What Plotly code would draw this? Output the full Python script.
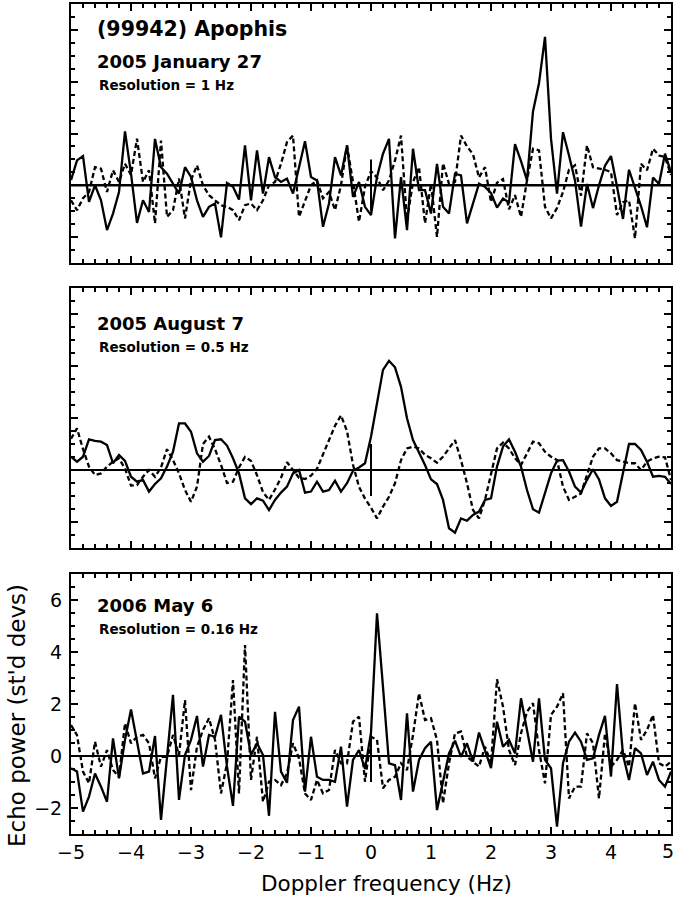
import plotly.graph_objects as go

# Doppler frequency grid (Hz), 0.1 Hz spacing
freq = [round(-5 + 0.1 * i, 1) for i in range(101)]

# 2005 January 27 (1 Hz resolution)
jan_solid = [0.2, 0.96, 1.13, -0.64, 0.0, -0.58, -1.73, -1.09, -0.26, 2.08,
             0.45, -1.45, -0.58, -1.03, 1.79, 0.7, 0.45, 0.06, -0.32, 0.7,
             0.32, -0.58, -1.22, -0.83, -0.7, -2.01, 0.09, -0.06, -0.55, 1.54,
             -0.58, 1.35, -0.32, 1.09, 0.32, 0.13, 0.26, -0.32, 0.7, 1.7,
             0.32, 0.19, -1.6, -0.7, 1.09, 0.38, 1.54, -0.45, 0.13, -0.83,
             -1.15, 0.32, 1.22, 1.79, -2.05, 0.32, -1.73, 1.41, -0.19, -0.19,
             -1.09, 0.83, -0.83, -1.09, 0.45, 0.38, -1.47, -0.7, 0.06, -0.06,
             -0.3, -0.86, -0.51, -0.66, 1.59, 0.93, 0.19, 2.85, 3.94, 5.73,
             1.8, -0.32, 2.05, 1.15, 0.19, -1.59, 0.05, -0.88, 0.0, 0.76,
             1.13, -0.05, -1.3, 0.6, -0.06, -0.8, -1.62, 0.3, 0.05, 1.22,
             0.5]
jan_dashed = [-0.58, -0.96, -0.5, -0.26, 0.7, 0.64, -0.26, 0.58, 0.13, 0.83,
              0.4, 1.8, 0.13, 0.58, -1.47, 1.73, -1.22, -0.96, 0.26, -1.28,
              0.2, 0.77, 0.0, -0.38, -0.58, -0.77, -0.83, -0.96, -1.35, -0.77,
              -0.7, -0.96, -0.58, 0.0, 0.13, 0.83, 1.67, 1.92, -1.22, -0.64,
              0.0, 0.19, -0.5, -0.26, -0.96, 0.0, 1.54, 0.13, -1.41, -0.06,
              0.55, 0.3, -0.19, 0.19, 0.96, 1.92, -1.35, 0.13, 0.7, -1.47,
              0.06, -1.99, 0.85, 0.06, 0.13, 1.92, 1.5, 1.2, 0.3, 0.7,
              -0.65, 0.1, 0.24, -0.93, -0.38, -1.22, 0.19, 1.41, 1.35, -0.83,
              -1.28, -0.88, -0.26, 0.6, 0.77, -0.4, 1.54, 0.7, 0.64, 0.6,
              0.51, -1.15, -0.65, -0.58, -2.05, 0.83, 0.58, 1.41, 1.15, 1.09,
              0.4]

# 2005 August 7 (0.5 Hz resolution)
aug_solid = [0.51, 0.32, 0.51, 1.18, 1.12, 1.09, 0.96, 0.26, 0.58, 0.35,
             -0.26, -0.45, -0.38, -0.83, -0.54, -0.32, 0.13, 0.7, 1.79, 1.79,
             1.47, 0.64, 0.32, 0.54, 1.15, 1.18, 0.94, 0.45, -0.13, -1.09,
             -1.31, -1.09, -1.18, -1.54, -1.15, -0.87, -0.64, -0.13, 0.0, -0.87,
             -0.83, -0.45, -0.83, -0.77, -0.41, -0.83, -0.51, -0.03, 0.1, 0.26,
             1.28, 2.56, 3.85, 4.2, 3.95, 3.2, 1.99, 1.15, 0.7, 0.19,
             -0.36, -0.54, -1.15, -2.24, -2.41, -1.86, -1.95, -1.73, -1.6, -1.15,
             -1.09, 0.13, 0.9, 1.18, 0.7, 0.13, -0.77, -1.51, -1.64, -0.9,
             -0.13, 0.36, 0.38, -0.06, -0.64, -0.87, -0.38, 0.03, -0.36, -1.09,
             -1.38, -1.22, -0.13, 1.0, 1.0, 0.77, 0.32, -0.26, -0.23, -0.26,
             -0.54]
aug_dashed = [1.2, 1.6, 0.8, 0.13, -0.19, -0.13, 0.13, 0.32, 0.45, 0.05,
              -0.6, -0.58, -0.26, 0.0, -0.26, 0.1, 0.8, 0.38, -0.13, -0.77,
              -1.22, -0.64, 1.0, 1.28, 0.8, 0.2, -0.5, -0.45, 0.1, 0.5,
              0.35, -0.2, -0.85, -1.15, -0.75, -0.3, 0.3, 0.0, -0.3, -0.35,
              -0.22, 0.05, 0.6, 1.1, 1.7, 2.1, 1.5, 0.2, -0.65, -1.1,
              -1.45, -1.86, -1.41, -1.03, -0.51, 0.38, 0.83, 0.9, 0.83, 0.58,
              0.45, 0.28, 0.51, 0.83, 1.15, 0.38, -0.51, -1.54, -1.86, -1.15,
              -0.13, 0.83, 1.05, 0.83, 0.45, 0.19, 0.64, 1.09, 1.03, 0.7,
              0.51, 0.38, -0.64, -1.15, -1.03, -0.9, -0.19, 0.51, 0.83, 0.83,
              0.64, 0.38, 0.32, 0.26, 0.26, 0.0, 0.32, 0.45, 0.51, 0.49,
              -0.38]

# 2006 May 6 (0.16 Hz resolution)
may_solid = [-0.47, -0.6, -2.14, -1.56, -0.67, -1.18, -1.76, 0.68, -0.86, 0.62,
             1.79, 0.55, -0.67, -0.6, 0.77, -2.46, -0.03, 2.35, -1.69, 0.04,
             0.62, 1.54, -0.41, 0.81, 0.74, 1.58, -0.41, -1.92, 1.51, 1.32,
             0.04, 0.49, 0.04, -2.3, 1.7, -0.6, -1.03, 1.38, 1.9, -1.37,
             0.74, -0.8, -0.92, -0.92, -0.99, 0.36, -1.95, -0.15, 0.23, -0.5,
             0.9, 5.49, 2.65, -0.28, -0.35, -1.69, 1.64, -1.37, -0.15, 0.3,
             0.55, -2.08, -0.99, 0.1, 0.59, -0.03, 0.49, -0.22, 0.9, 0.23,
             -0.47, 1.32, 0.36, 0.62, 0.1, 2.22, 0.94, -0.22, 2.22, -0.15,
             -0.47, -2.72, -0.28, 0.55, 0.9, 0.55, -0.15, -0.09, 0.81, 1.54,
             -0.79, 2.77, 0.04, -0.92, 0.3, 0.1, -0.73, -0.22, -0.92, -1.18,
             -0.6]
may_dashed = [1.19, 0.8, -0.6, -1.05, 0.55, -0.41, 0.23, -0.54, -0.8, 1.26,
              0.49, 0.74, 0.81, 0.49, -0.86, -0.03, -0.03, 0.81, 0.04, 2.15,
              -1.31, 0.36, 1.0, 1.45, 0.62, -1.44, -0.28, 2.92, -1.44, 4.27,
              -0.92, 0.74, -1.76, -0.99, -0.92, -1.12, -0.67, 0.49, -0.09, -1.44,
              -1.69, -0.92, -1.44, -1.31, 0.23, -0.28, -0.28, 1.32, 1.51, -0.99,
              0.74, 0.62, -1.24, -0.92, -0.8, -0.28, -0.54, 0.81, 2.41, 1.38,
              1.45, 0.62, -1.82, -0.28, 0.87, 0.94, -0.03, -0.22, -0.41, 0.36,
              -0.28, 2.95, 1.9, 0.23, -0.35, 0.87, 1.7, 2.03, 0.23, -1.05,
              1.58, 1.9, 2.41, -1.63, -1.18, -1.18, 0.87, 0.49, -1.63, 0.87,
              -0.41, -0.15, 0.23, -0.41, 2.03, 0.62, 1.0, 1.58, -0.28, -0.41,
              -0.22]

# horizontal zero reference and +/- 1 standard deviation marker at zero Doppler
baseline_x = [-5, 5]
baseline_y = [0, 0]
sigma_x = [0, 0]
sigma_y = [-1, 1]

# x tick labels; the last one ("5") sits at the figure edge and is drawn separately
x_tick_vals = [-5, -4, -3, -2, -1, 0, 1, 2, 3, 4, 5]
x_tick_text = ["\u22125", "\u22124", "\u22123", "\u22122", "\u22121",
               "0", "1", "2", "3", "4", ""]
x_edge_label = "5"

panel_titles = ["2005 January 27", "2005 August 7", "2006 May 6"]
panel_res = ["Resolution = 1 Hz", "Resolution = 0.5 Hz", "Resolution = 0.16 Hz"]
target_name = "(99942) Apophis"
x_title = "Doppler frequency (Hz)"
y_title = "Echo power (st'd devs)"

FONT = "DejaVu Sans, Liberation Sans, Arial, sans-serif"
W, H = 675, 898
L, R, T, B = 71, 4, 4, 64
plot_h = H - T - B


def ypaper(py):
    return (H - B - py) / plot_h


def xpaper(px):
    return (px - L) / (W - L - R)


fig = go.Figure()

# panel order: top (y3), middle (y2), bottom (y)
panels = [
    (jan_solid, jan_dashed, "x3", "y3", 2.6),
    (aug_solid, aug_dashed, "x2", "y2", 2.0),
    (may_solid, may_dashed, "x", "y", 2.0),
]
for solid, dashed, xa, ya, zw in panels:
    fig.add_trace(go.Scatter(x=baseline_x, y=baseline_y, mode="lines", xaxis=xa, yaxis=ya,
                             line=dict(color="black", width=zw),
                             showlegend=False, hoverinfo="skip"))
    fig.add_trace(go.Scatter(x=freq, y=dashed, mode="lines", xaxis=xa, yaxis=ya,
                             line=dict(color="black", width=2.3, dash="5px,3px"),
                             showlegend=False, hoverinfo="skip"))
    fig.add_trace(go.Scatter(x=freq, y=solid, mode="lines", xaxis=xa, yaxis=ya,
                             line=dict(color="black", width=2.3),
                             showlegend=False, hoverinfo="skip"))
    fig.add_trace(go.Scatter(x=sigma_x, y=sigma_y, mode="lines", xaxis=xa, yaxis=ya,
                             line=dict(color="black", width=2),
                             showlegend=False, hoverinfo="skip"))

xcommon = dict(range=[-5, 5], showline=True, linecolor="black", linewidth=2,
               mirror="ticks", ticks="inside", ticklen=7, tickwidth=1.5,
               tickcolor="black", tickvals=x_tick_vals, ticktext=x_tick_text,
               showgrid=False, zeroline=False, automargin=False,
               minor=dict(ticks="inside", ticklen=4, tickwidth=1.5, tickcolor="black",
                          dtick=0.2, tick0=0, showgrid=False),
               tickfont=dict(family=FONT, size=19, color="black"))
ycommon = dict(range=[-3, 7], showline=True, linecolor="black", linewidth=2,
               mirror="ticks", ticks="inside", ticklen=7, tickwidth=1.5,
               tickcolor="black", tick0=0, dtick=2, showgrid=False,
               zeroline=False, automargin=False,
               minor=dict(ticks="inside", ticklen=4, tickwidth=1.5, tickcolor="black",
                          dtick=0.5, tick0=0, showgrid=False),
               tickfont=dict(family=FONT, size=19, color="black"))

dom_bottom = [0, ypaper(574)]
dom_middle = [ypaper(548), ypaper(288)]
dom_top = [ypaper(263), 1]

fig.update_layout(
    width=W, height=H,
    margin=dict(l=L, r=R, t=T, b=B, autoexpand=False),
    paper_bgcolor="white", plot_bgcolor="white",
    font=dict(family=FONT, color="black"),
    xaxis=dict(xcommon, anchor="y", showticklabels=True, ticklabelstandoff=0),
    yaxis=dict(ycommon, anchor="x", domain=dom_bottom, showticklabels=True,
               ticklabelstandoff=3),
    xaxis2=dict(xcommon, anchor="y2", showticklabels=False),
    yaxis2=dict(ycommon, anchor="x2", domain=dom_middle, showticklabels=False),
    xaxis3=dict(xcommon, anchor="y3", showticklabels=False),
    yaxis3=dict(ycommon, anchor="x3", domain=dom_top, showticklabels=False),
)

annots = []
annots.append(dict(text=target_name, x=xpaper(95), y=ypaper(29), size=20.5))
annots.append(dict(text=panel_titles[0], x=xpaper(95), y=ypaper(61), size=18))
annots.append(dict(text=panel_res[0], x=xpaper(97), y=ypaper(85), size=13.5))
annots.append(dict(text=panel_titles[1], x=xpaper(95), y=ypaper(323), size=18))
annots.append(dict(text=panel_res[1], x=xpaper(97), y=ypaper(347), size=13.5))
annots.append(dict(text=panel_titles[2], x=xpaper(95), y=ypaper(605), size=18))
annots.append(dict(text=panel_res[2], x=xpaper(97), y=ypaper(629), size=13.5))
for a in annots:
    fig.add_annotation(text="<b>" + a["text"] + "</b>", x=a["x"], y=a["y"],
                       xref="paper", yref="paper", xanchor="left", yanchor="middle",
                       showarrow=False, font=dict(family=FONT, size=a["size"], color="black"))

# right-most x tick label kept fully inside the figure
fig.add_annotation(text=x_edge_label, x=xpaper(675), y=ypaper(851), xref="paper", yref="paper",
                   xanchor="right", yanchor="middle", showarrow=False, borderpad=0,
                   font=dict(family=FONT, size=19, color="black"))

fig.add_annotation(text=x_title, x=xpaper(386), y=ypaper(883), xref="paper", yref="paper",
                   xanchor="center", yanchor="middle", showarrow=False,
                   font=dict(family=FONT, size=21.5, color="black"))
fig.add_annotation(text=y_title, x=xpaper(17), y=ypaper(716), xref="paper", yref="paper",
                   xanchor="center", yanchor="middle", showarrow=False, textangle=-90,
                   font=dict(family=FONT, size=23, color="black"))

fig.write_html("out.html")
